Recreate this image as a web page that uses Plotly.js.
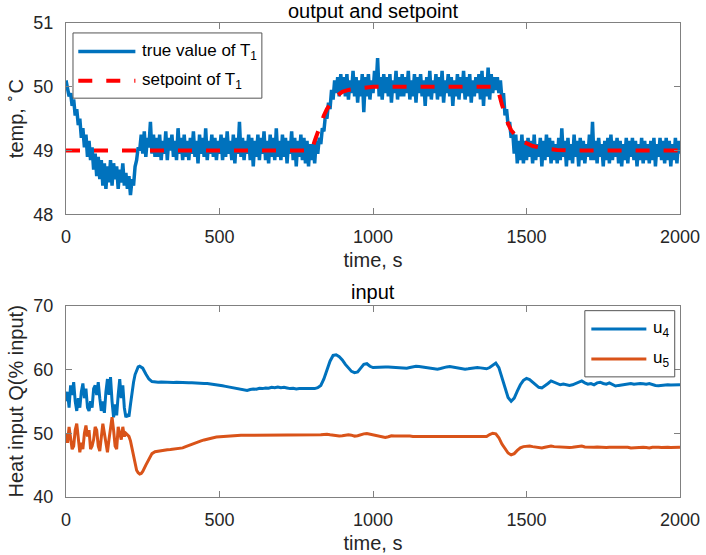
<!DOCTYPE html>
<html>
<head>
<meta charset="utf-8">
<script src="https://cdn.plot.ly/plotly-3.0.1.min.js"></script>
<style>html,body{margin:0;padding:0;background:#fff;} #chart{width:706px;height:555px;}</style>
</head>
<body>
<div id="chart"></div>
<script>
// sample spacing of the recorded temperature (s)
const t1Step = 5;

// true value of T1 (degC), one value per 5 s from 0 to 2000 s (rows of 100 s)
const T1 = [
  50.10, 49.95, 49.85, 49.90, 49.70, 49.80, 49.55, 49.65, 49.40, 49.50, 49.20, 49.35, 49.05, 49.25, 48.90, 49.15, 48.85, 49.05, 48.70, 48.95, // 0
  48.60, 48.90, 48.55, 48.85, 48.45, 48.80, 48.40, 48.75, 48.50, 48.85, 48.45, 48.80, 48.55, 48.75, 48.40, 48.70, 48.50, 48.80, 48.45, 48.65, // 100
  48.40, 48.60, 48.30, 48.55, 48.45, 48.75, 48.85, 49.05, 49.00, 49.25, 48.95, 49.30, 48.90, 49.20, 49.05, 49.45, 48.95, 49.25, 48.90, 49.20, // 200
  48.90, 49.25, 48.85, 49.15, 48.95, 49.30, 48.85, 49.20, 49.00, 49.25, 48.90, 49.15, 48.85, 49.35, 48.95, 49.20, 48.85, 49.25, 48.90, 49.15, // 300
  48.85, 49.20, 48.95, 49.30, 48.90, 49.15, 48.80, 49.25, 48.95, 49.20, 48.90, 49.35, 48.85, 49.15, 48.95, 49.25, 48.90, 49.20, 48.85, 49.15, // 400
  48.95, 49.25, 48.85, 49.20, 48.90, 49.30, 48.95, 49.15, 48.85, 49.25, 48.80, 49.20, 48.95, 49.45, 48.90, 49.20, 48.85, 49.15, 48.95, 49.25, // 500
  48.85, 49.20, 48.75, 49.15, 48.90, 49.25, 48.85, 49.20, 48.95, 49.30, 48.85, 49.15, 48.80, 49.25, 48.90, 49.20, 48.85, 49.35, 48.90, 49.15, // 600
  48.85, 49.25, 48.90, 49.20, 48.80, 49.15, 48.95, 49.30, 48.85, 49.20, 48.75, 49.15, 48.90, 49.25, 48.85, 49.20, 48.80, 49.15, 48.75, 49.10, // 700
  48.85, 49.10, 48.80, 49.15, 48.95, 49.20, 49.10, 49.35, 49.30, 49.55, 49.50, 49.75, 49.65, 49.95, 49.80, 50.10, 49.90, 50.15, 49.85, 50.20, // 800
  49.90, 50.15, 49.85, 50.20, 49.80, 50.10, 49.90, 50.25, 49.85, 50.15, 49.75, 50.10, 49.85, 50.20, 49.60, 50.15, 49.85, 50.20, 49.80, 50.10, // 900
  49.90, 50.25, 50.00, 50.45, 49.85, 50.15, 49.80, 50.20, 49.90, 50.15, 49.85, 50.20, 49.75, 50.10, 49.90, 50.25, 49.80, 50.15, 49.85, 50.20, // 1000
  49.85, 50.15, 49.90, 50.25, 49.80, 50.10, 49.85, 50.20, 49.75, 50.15, 49.90, 50.20, 49.85, 50.10, 49.70, 50.15, 49.85, 50.25, 49.80, 50.10, // 1100
  49.90, 50.20, 49.80, 50.15, 49.85, 50.25, 49.75, 50.10, 49.90, 50.20, 49.85, 50.15, 49.70, 50.10, 49.85, 50.20, 49.80, 50.15, 49.90, 50.25, // 1200
  49.80, 50.15, 49.85, 50.20, 49.75, 50.10, 49.85, 50.15, 49.90, 50.20, 49.80, 50.25, 49.70, 50.15, 49.85, 50.30, 49.80, 50.20, 49.90, 50.15, // 1300
  49.95, 50.15, 49.90, 50.10, 49.80, 49.90, 49.55, 49.65, 49.40, 49.45, 49.20, 49.30, 48.95, 49.25, 48.80, 49.15, 48.85, 49.25, 48.80, 49.15, // 1400
  48.85, 49.20, 48.90, 49.15, 48.80, 49.25, 48.85, 49.10, 48.90, 49.20, 48.75, 49.15, 48.85, 49.25, 48.90, 49.20, 48.80, 49.15, 48.85, 49.10, // 1500
  48.80, 49.20, 48.85, 49.35, 48.90, 49.15, 48.75, 49.20, 48.85, 49.10, 48.80, 49.25, 48.90, 49.15, 48.75, 49.20, 48.85, 49.15, 48.80, 49.10, // 1600
  48.90, 49.25, 48.85, 49.45, 48.85, 49.15, 48.80, 49.20, 48.90, 49.10, 48.75, 49.15, 48.85, 49.20, 48.80, 49.25, 48.85, 49.15, 48.90, 49.20, // 1700
  48.80, 49.15, 48.75, 49.10, 48.85, 49.20, 48.80, 49.15, 48.90, 49.20, 48.85, 49.15, 48.75, 49.10, 48.85, 49.20, 48.80, 49.15, 48.85, 49.10, // 1800
  48.80, 49.15, 48.85, 49.20, 48.75, 49.10, 48.90, 49.20, 48.85, 49.15, 48.80, 49.20, 48.85, 49.15, 48.75, 49.10, 48.85, 49.20, 48.80, 49.15, // 1900
  48.95                                                                                                                                         // 2000
];

// setpoint of T1
const spTime  = [0, 800, 810, 820, 830, 840, 850, 860, 870, 880, 890, 900, 920, 940, 960, 980, 1000, 1400,
                 1410, 1420, 1430, 1440, 1450, 1460, 1470, 1480, 1500, 1520, 1540, 1560, 1580, 1600, 1650, 2000];
const spValue = [49, 49, 49.15, 49.3, 49.42, 49.55, 49.65, 49.73, 49.8, 49.85, 49.89, 49.92, 49.95, 49.97, 49.98, 49.99, 50, 50,
                 49.9, 49.72, 49.56, 49.42, 49.32, 49.25, 49.2, 49.16, 49.11, 49.07, 49.05, 49.03, 49.02, 49.01, 49, 49];

// heat inputs are read every 5 s up to 250 s, then every 10 s
const uFineStep = 5, uFineEnd = 250, uCoarseStep = 10;

// heat input u4 (% input)
const u4 = [
  55.0, 56.5, 54.0, 57.5, 56.0, 58.0, 55.0, 53.5, 55.5, 54.0, 56.5, 57.8, 55.5, 57.0, 54.0, 53.5, 55.0, 54.0, 57.0, 57.5, // 0 (5 s)
  56.0, 58.0, 55.5, 53.5, 55.0, 53.2, 56.5, 58.5, 56.0, 58.8, 55.0, 52.5, 54.5, 52.8, 56.0, 58.5, 55.5, 57.5, 54.0, 52.5, // 100 (5 s)
  53.0, 52.6, 54.5, 56.5, 58.0, 59.2, 60.0, 60.4, 60.5, 60.3,                                                             // 200 (5 s)
  60.2, 59.3, 58.5, 58.1, 58.0,                                                                                           // 250 (10 s)
  58.0, 58.05, 58.0, 58.0, 58.0, 57.95, 58.0, 57.95, 57.9, 57.95,   // 300
  57.9, 57.9, 57.85, 57.9, 57.85, 57.8, 57.8, 57.75, 57.7, 57.6,    // 400
  57.55, 57.45, 57.35, 57.25, 57.15, 57.05, 56.95, 56.85, 56.75, 56.7, // 500
  56.85, 56.95, 56.9, 57.05, 57.0, 57.1, 57.05, 57.2, 57.15, 57.25, // 600
  57.15, 57.2, 57.1, 57.0, 57.05, 56.95, 57.0, 57.0, 56.95, 57.0,   // 700
  57.05, 57.0, 57.15, 57.5, 58.5, 60.0, 61.3, 62.2, 62.3, 62.0,     // 800
  61.5, 60.8, 60.2, 59.7, 59.5, 59.6, 60.2, 60.8, 60.9, 60.5,       // 900
  60.3, 60.35, 60.4, 60.35, 60.4, 60.4, 60.35, 60.3, 60.25, 60.2,   // 1000
  60.15, 60.2, 60.3, 60.4, 60.5, 60.45, 60.4, 60.35, 60.3, 60.2,    // 1100
  60.1, 60.05, 60.15, 60.3, 60.4, 60.45, 60.35, 60.25, 60.2, 60.1,  // 1200
  60.05, 60.1, 60.2, 60.3, 60.3, 60.25, 60.15, 60.1, 60.3, 60.6,    // 1300
  61.0, 60.3, 58.8, 57.0, 55.6, 55.0, 55.5, 56.6, 57.6, 58.3,       // 1400
  58.6, 58.4, 58.0, 57.6, 57.2, 57.1, 57.4, 57.8, 58.2, 58.0,       // 1500
  57.7, 57.6, 57.7, 57.6, 57.5, 57.6, 57.8, 58.1, 58.2, 57.9,       // 1600
  57.7, 57.8, 57.6, 57.9, 58.0, 57.8, 57.7, 57.9, 57.6, 57.4,       // 1700
  57.5, 57.6, 57.6, 57.7, 57.8, 57.7, 57.8, 57.8, 57.75, 57.7,      // 1800
  57.8, 57.6, 57.5, 57.45, 57.5, 57.6, 57.6, 57.55, 57.6, 57.6,     // 1900
  57.6                                                              // 2000
];

// heat input u5 (% input)
const u5 = [
  50.0, 48.5, 51.0, 49.5, 47.5, 48.0, 50.5, 51.5, 49.0, 47.0, 48.5, 47.5, 50.0, 51.2, 49.5, 50.5, 47.5, 48.0, 49.0, 51.0, // 0 (5 s)
  50.5, 48.0, 47.2, 49.5, 51.5, 50.0, 48.5, 47.0, 49.0, 51.0, 52.5, 50.5, 48.0, 47.5, 51.0, 50.0, 49.0, 51.0, 49.5, 50.0, // 100 (5 s)
  49.8, 49.5, 48.8, 47.5, 46.2, 45.0, 44.2, 43.8, 43.6, 43.7,                                                             // 200 (5 s)
  44.0, 45.0, 46.0, 46.8, 47.1,                                                                                           // 250 (10 s)
  47.2, 47.3, 47.35, 47.4, 47.45, 47.5, 47.55, 47.6, 47.7, 47.9,    // 300
  48.1, 48.3, 48.5, 48.65, 48.8, 48.95, 49.1, 49.2, 49.3, 49.4,     // 400
  49.45, 49.5, 49.55, 49.6, 49.6, 49.65, 49.65, 49.7, 49.7, 49.65,  // 500
  49.7, 49.7, 49.7, 49.75, 49.7, 49.7, 49.7, 49.7, 49.75, 49.7,     // 600
  49.7, 49.65, 49.7, 49.7, 49.65, 49.7, 49.7, 49.65, 49.7, 49.7,    // 700
  49.75, 49.7, 49.7, 49.75, 49.8, 49.85, 49.75, 49.65, 49.6, 49.55, // 800
  49.6, 49.7, 49.75, 49.7, 49.55, 49.6, 49.8, 49.9, 49.95, 49.85,   // 900
  49.75, 49.7, 49.65, 49.5, 49.35, 49.45, 49.6, 49.55, 49.6, 49.55, // 1000
  49.55, 49.6, 49.55, 49.5, 49.5, 49.5, 49.5, 49.45, 49.5, 49.5,    // 1100
  49.5, 49.5, 49.45, 49.5, 49.5, 49.5, 49.45, 49.5, 49.5, 49.5,     // 1200
  49.5, 49.5, 49.45, 49.5, 49.5, 49.5, 49.5, 49.5, 49.8, 50.0,      // 1300
  49.9, 49.3, 48.3, 47.5, 46.9, 46.6, 46.8, 47.3, 47.7, 47.9,       // 1400
  48.0, 48.0, 47.9, 47.85, 47.75, 47.7, 47.8, 47.9, 48.0, 47.9,     // 1500
  47.85, 47.8, 47.85, 47.8, 47.75, 47.8, 47.85, 47.9, 48.0, 47.85,  // 1600
  47.8, 47.75, 47.8, 47.85, 47.8, 47.7, 47.75, 47.8, 47.8, 47.75,   // 1700
  47.8, 47.85, 47.8, 47.8, 47.7, 47.75, 47.8, 47.85, 47.8, 47.75,   // 1800
  47.7, 47.8, 47.85, 47.8, 47.75, 47.8, 47.8, 47.75, 47.8, 47.85,   // 1900
  47.8                                                              // 2000
];

// axis tick labels
const xTicks = [0, 500, 1000, 1500, 2000];
const yTicksTop = [48, 49, 50, 51];
const yTicksBottom = [40, 50, 60, 70];

const labels = {
  topTitle: 'output and setpoint',
  bottomTitle: 'input',
  xTitle: 'time, s',
  yTopTitle: 'temp, <sup>\u2218</sup>C',
  yBottomTitle: 'Heat input Q(% input)',
  t1: 'true value of T<sub>1</sub>',
  sp: 'setpoint of T<sub>1</sub>',
  u4: 'u<sub>4</sub>',
  u5: 'u<sub>5</sub>'
};

const t1Time = T1.map((_, i) => i * t1Step);
const nFine = uFineEnd / uFineStep;
const uTime = u4.map((_, i) => i < nFine ? i * uFineStep : uFineEnd + (i - nFine) * uCoarseStep);

const BLUE = '#0072BD', ORANGE = '#D95319', RED = '#FF0000';
const FONT = 'Liberation Sans, Arial, Helvetica, sans-serif';
const AXC = '#808080';
const TXT = '#262626';

const traces = [
  {x: t1Time, y: T1, xaxis: 'x', yaxis: 'y', mode: 'lines', name: labels.t1,
   line: {color: BLUE, width: 3.5}, showlegend: false},
  {x: spTime, y: spValue, xaxis: 'x', yaxis: 'y', mode: 'lines', name: labels.sp,
   line: {color: RED, width: 4, dash: '14px,14px'}, showlegend: false},
  {x: uTime, y: u4, xaxis: 'x2', yaxis: 'y2', mode: 'lines', name: labels.u4,
   line: {color: BLUE, width: 3}, showlegend: false},
  {x: uTime, y: u5, xaxis: 'x2', yaxis: 'y2', mode: 'lines', name: labels.u5,
   line: {color: ORANGE, width: 3}, showlegend: false}
];

function xAxis(anchor) {
  return {
    anchor: anchor, domain: [0, 1], range: [0, 2000],
    tickvals: xTicks, ticktext: xTicks.map(String),
    ticks: 'inside', ticklen: 6, tickcolor: AXC, tickwidth: 1,
    showline: true, linecolor: AXC, linewidth: 1, mirror: 'ticks',
    showgrid: false, zeroline: false,
    tickfont: {family: FONT, size: 18, color: TXT},
    ticklabelstandoff: 6,
    title: {text: labels.xTitle, font: {family: FONT, size: 20, color: TXT}, standoff: 7}
  };
}
function yAxis(anchor, domain, range, ticks, title) {
  return {
    anchor: anchor, domain: domain, range: range,
    tickvals: ticks, ticktext: ticks.map(String),
    ticks: 'inside', ticklen: 6, tickcolor: AXC, tickwidth: 1,
    showline: true, linecolor: AXC, linewidth: 1, mirror: 'ticks',
    showgrid: false, zeroline: false,
    tickfont: {family: FONT, size: 18, color: TXT},
    ticklabelstandoff: 8,
    title: {text: title, font: {family: FONT, size: 20, color: TXT}, standoff: 4}
  };
}

const legendFont = {family: FONT, size: 17, color: '#000'};

const layout = {
  width: 706, height: 555,
  margin: {l: 66, r: 26, t: 23, b: 58},
  paper_bgcolor: '#fff', plot_bgcolor: '#fff',
  showlegend: false,
  xaxis: xAxis('y'),
  yaxis: yAxis('x', [0.5964, 1], [48, 51], yTicksTop, labels.yTopTitle),
  xaxis2: xAxis('y2'),
  yaxis2: yAxis('x2', [0, 0.4036], [40, 70], yTicksBottom, labels.yBottomTitle),
  shapes: [
    // top legend box and samples
    {type: 'rect', xref: 'x domain', yref: 'y domain', x0: 0.0114, x1: 0.319, y0: 0.607, y1: 0.948,
     line: {color: '#555', width: 1}, fillcolor: '#fff', layer: 'above'},
    {type: 'line', xref: 'x domain', yref: 'y domain', x0: 0.020, x1: 0.113, y0: 0.851, y1: 0.851,
     line: {color: BLUE, width: 3.5}, layer: 'above'},
    {type: 'line', xref: 'x domain', yref: 'y domain', x0: 0.020, x1: 0.113, y0: 0.698, y1: 0.698,
     line: {color: RED, width: 4, dash: '14px,14px'}, layer: 'above'},
    // bottom legend box and samples
    {type: 'rect', xref: 'x2 domain', yref: 'y2 domain', x0: 0.845, x1: 0.9914, y0: 0.628, y1: 0.974,
     line: {color: '#555', width: 1}, fillcolor: '#fff', layer: 'above'},
    {type: 'line', xref: 'x2 domain', yref: 'y2 domain', x0: 0.8556, x1: 0.9452, y0: 0.878, y1: 0.878,
     line: {color: BLUE, width: 3}, layer: 'above'},
    {type: 'line', xref: 'x2 domain', yref: 'y2 domain', x0: 0.8556, x1: 0.9452, y0: 0.721, y1: 0.721,
     line: {color: ORANGE, width: 3}, layer: 'above'}
  ],
  annotations: [
    {text: labels.topTitle, xref: 'x domain', yref: 'y domain', x: 0.5, y: 1, xanchor: 'center', yanchor: 'middle',
     yshift: 12, showarrow: false, font: {family: FONT, size: 20, color: '#000'}},
    {text: labels.bottomTitle, xref: 'x2 domain', yref: 'y2 domain', x: 0.5, y: 1, xanchor: 'center', yanchor: 'middle',
     yshift: 14, showarrow: false, font: {family: FONT, size: 20, color: '#000'}},
    {text: labels.t1, xref: 'x domain', yref: 'y domain', x: 0.121, y: 0.851, xanchor: 'left', yanchor: 'middle',
     showarrow: false, font: legendFont},
    {text: labels.sp, xref: 'x domain', yref: 'y domain', x: 0.121, y: 0.698, xanchor: 'left', yanchor: 'middle',
     showarrow: false, font: legendFont},
    {text: labels.u4, xref: 'x2 domain', yref: 'y2 domain', x: 0.952, y: 0.878, xanchor: 'left', yanchor: 'middle',
     showarrow: false, font: legendFont},
    {text: labels.u5, xref: 'x2 domain', yref: 'y2 domain', x: 0.952, y: 0.721, xanchor: 'left', yanchor: 'middle',
     showarrow: false, font: legendFont}
  ]
};

Plotly.newPlot('chart', traces, layout, {displayModeBar: false, staticPlot: true});
</script>
</body>
</html>
